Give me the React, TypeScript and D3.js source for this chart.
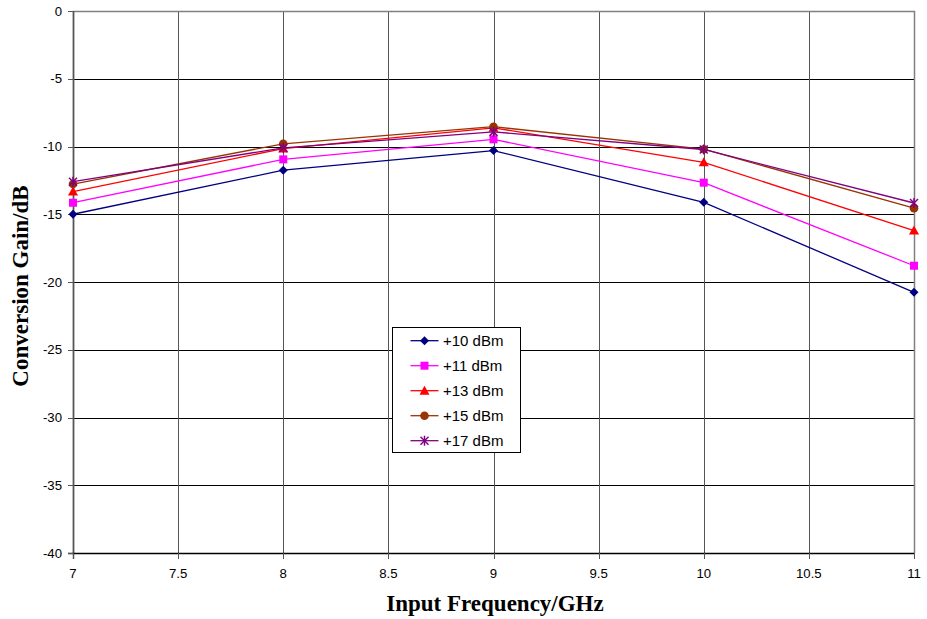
import React from "react";
import * as d3 from "d3";

const freqs = [7, 8, 9, 10, 11];
const seriesNames = ["+10 dBm", "+11 dBm", "+13 dBm", "+15 dBm", "+17 dBm"];
const gain10 = [-15.0, -11.75, -10.3, -14.12, -20.76];
const gain11 = [-14.15, -10.95, -9.47, -12.67, -18.8];
const gain13 = [-13.33, -10.15, -8.62, -11.17, -16.2];
const gain15 = [-12.77, -9.8, -8.54, -10.2, -14.55];
const gain17 = [-12.6, -10.1, -8.92, -10.22, -14.17];
const seriesValues = [gain10, gain11, gain13, gain15, gain17];
const seriesColors = ["#000080", "#FF00FF", "#FF0000", "#993300", "#800080"];
const markerTypes = ["diamond", "square", "triangle", "circle", "star"];
const xTicks = [7, 7.5, 8, 8.5, 9, 9.5, 10, 10.5, 11];
const yTicks = [0, -5, -10, -15, -20, -25, -30, -35, -40];

const W = 927;
const H = 619;
const L = 73, R = 914, T = 11, B = 553;

function Marker({ type, x, y, color }: { type: string; x: number; y: number; color: string }) {
  if (type === "diamond") {
    const s = 4.5;
    return <path d={`M${x},${y - s}L${x + s},${y}L${x},${y + s}L${x - s},${y}Z`} fill={color} />;
  }
  if (type === "square") {
    return <rect x={x - 4} y={y - 4} width={8} height={8} fill={color} />;
  }
  if (type === "triangle") {
    return <path d={`M${x},${y - 5}L${x + 5},${y + 4}L${x - 5},${y + 4}Z`} fill={color} />;
  }
  if (type === "circle") {
    return <circle cx={x} cy={y} r={4.3} fill={color} />;
  }
  const s = 4;
  return (
    <g stroke={color} strokeWidth={1.5}>
      <line x1={x - s} y1={y - s} x2={x + s} y2={y + s} />
      <line x1={x - s} y1={y + s} x2={x + s} y2={y - s} />
      <line x1={x} y1={y - s - 1} x2={x} y2={y + s + 1} />
    </g>
  );
}

export default function App() {
  const x = d3.scaleLinear().domain([7, 11]).range([L, R]);
  const y = d3.scaleLinear().domain([-40, 0]).range([B, T]);
  const line = d3
    .line<number>()
    .x((_, i) => x(freqs[i]))
    .y((d) => y(d));

  const legX = 392.5, legY = 327.5, legW = 128, legH = 125;

  return (
    <div style={{ position: "absolute", left: 0, top: 0 }}>
      <svg width={W} height={H} style={{ display: "block", background: "#fff" }}>
        {/* horizontal grid */}
        {yTicks.map((t) => (
          <line key={"h" + t} x1={L} x2={R} y1={Math.round(y(t)) + 0.5} y2={Math.round(y(t)) + 0.5} stroke="#000" strokeWidth={1} />
        ))}
        {/* vertical grid */}
        {xTicks.map((t) => (
          <line key={"v" + t} x1={Math.round(x(t)) + 0.5} x2={Math.round(x(t)) + 0.5} y1={T} y2={B} stroke="#555" strokeWidth={1} />
        ))}
        {/* plot border */}
        <path d={`M${L + 0.5},${B}V${T + 0.5}H${R + 0.5}V${B}`} fill="none" stroke="#808080" strokeWidth={1.5} />
        {/* axes */}
        <line x1={L + 0.5} x2={L + 0.5} y1={T} y2={B + 6} stroke="#555" strokeWidth={1.5} />
        <line x1={L - 5} x2={R} y1={B + 0.5} y2={B + 0.5} stroke="#000" strokeWidth={1.5} />
        {yTicks.map((t) => (
          <g key={"yt" + t}>
            <line x1={L - 5} x2={L} y1={Math.round(y(t)) + 0.5} y2={Math.round(y(t)) + 0.5} stroke="#555" />
            <text x={L - 11} y={y(t)} dy="0.35em" textAnchor="end" fontFamily="Liberation Sans, Arial, sans-serif" fontSize={13.2} fill="#000">
              {t}
            </text>
          </g>
        ))}
        {xTicks.map((t) => (
          <g key={"xt" + t}>
            <line x1={Math.round(x(t)) + 0.5} x2={Math.round(x(t)) + 0.5} y1={B} y2={B + 6} stroke="#555" />
            <text x={x(t)} y={B + 25} textAnchor="middle" fontFamily="Liberation Sans, Arial, sans-serif" fontSize={13.2} fill="#000">
              {t}
            </text>
          </g>
        ))}
        {/* series */}
        {seriesValues.map((vals, si) => (
          <g key={"s" + si}>
            <path d={line(vals) || ""} fill="none" stroke={seriesColors[si]} strokeWidth={1.3} />
            {vals.map((v, i) => (
              <Marker key={i} type={markerTypes[si]} x={x(freqs[i])} y={y(v)} color={seriesColors[si]} />
            ))}
          </g>
        ))}
        {/* axis titles */}
        <text
          transform={`translate(28,${286}) rotate(-90)`}
          textAnchor="middle"
          fontFamily="Liberation Serif, Times New Roman, serif"
          fontWeight="bold"
          fontSize={23}
        >
          Conversion Gain/dB
        </text>
        <text
          x={495}
          y={611}
          textAnchor="middle"
          fontFamily="Liberation Serif, Times New Roman, serif"
          fontWeight="bold"
          fontSize={23}
        >
          Input Frequency/GHz
        </text>
        {/* legend */}
        <rect x={legX} y={legY} width={legW} height={legH} fill="#fff" stroke="#000" strokeWidth={1} />
        {seriesNames.map((name, i) => {
          const ly = 340.7 + i * 25;
          return (
            <g key={"l" + i}>
              <line x1={410.5} x2={438.5} y1={ly} y2={ly} stroke={seriesColors[i]} strokeWidth={1.3} />
              <Marker type={markerTypes[i]} x={424.5} y={ly} color={seriesColors[i]} />
              <text x={443} y={ly} dy="0.36em" fontFamily="Liberation Sans, Arial, sans-serif" fontSize={15} fill="#000">
                {name}
              </text>
            </g>
          );
        })}
      </svg>
    </div>
  );
}
